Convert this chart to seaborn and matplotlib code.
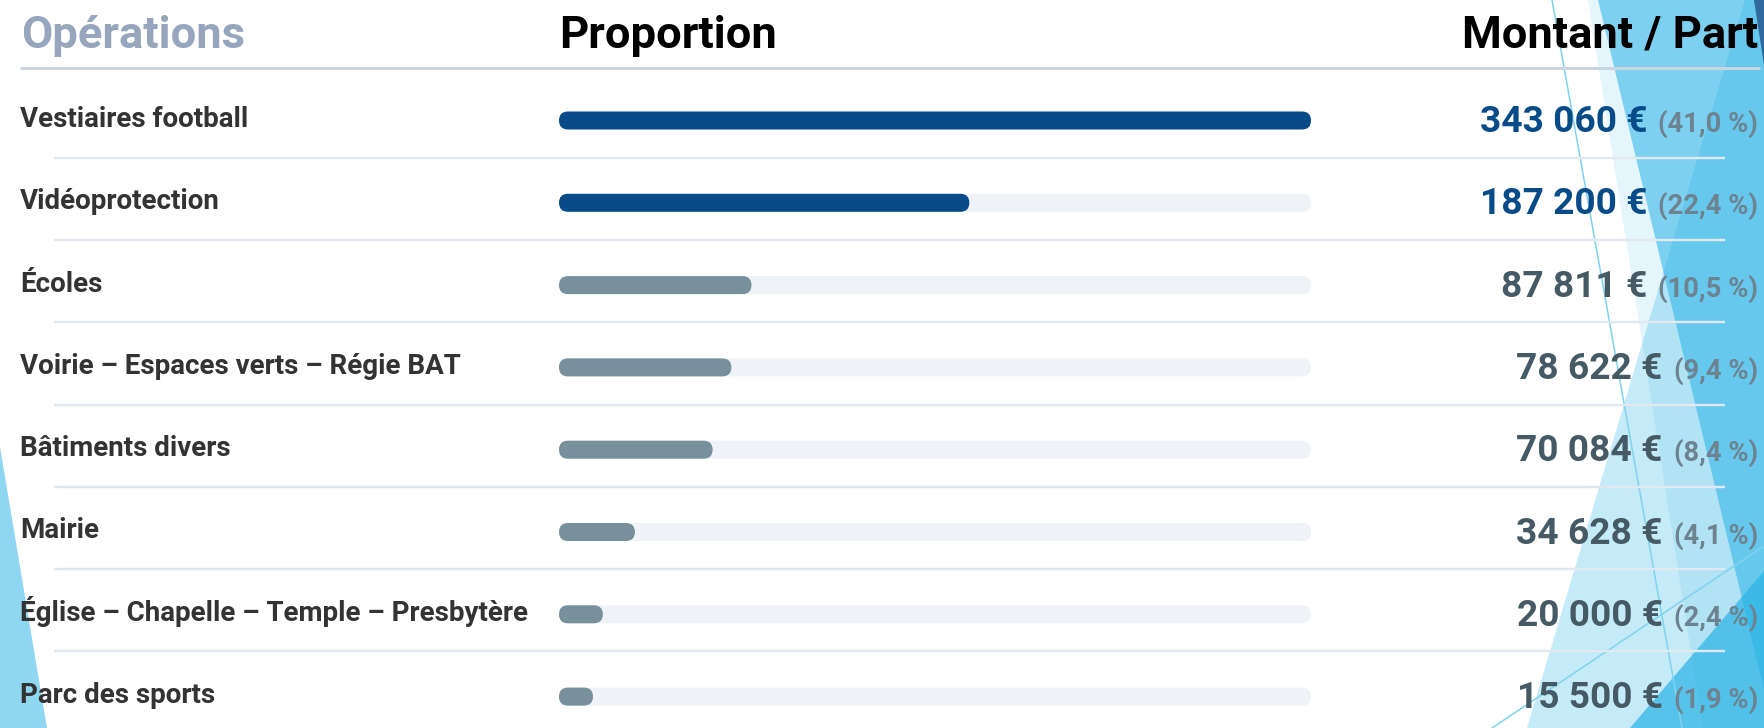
import numpy as np
import pandas as pd
import matplotlib
matplotlib.use("Agg")
import matplotlib.pyplot as plt
import seaborn as sns
from matplotlib.patches import FancyBboxPatch, Polygon
from matplotlib.transforms import blended_transform_factory, offset_copy

# ---------------- data ----------------
operations = [
    "Vestiaires football",
    "Vidéoprotection",
    "Écoles",
    "Voirie – Espaces verts – Régie BAT",
    "Bâtiments divers",
    "Mairie",
    "Église – Chapelle – Temple – Presbytère",
    "Parc des sports",
]
amounts = [343060, 187200, 87811, 78622, 70084, 34628, 20000, 15500]
shares = [41.0, 22.4, 10.5, 9.4, 8.4, 4.1, 2.4, 1.9]
highlighted = [True, True, False, False, False, False, False, False]
headers = ["Opérations", "Proportion", "Montant / Part"]


def fmt_amount(v):
    return f"{v:,}".replace(",", " ") + " €"


def fmt_share(s):
    return "(" + f"{s:.1f}".replace(".", ",") + " %)"


# ---------------- style ----------------
W, H = 1764, 728
sns.set_theme(style="white")
FONT = ["Roboto", "DejaVu Sans"]
plt.rcParams["font.family"] = FONT

DARK_BLUE = "#074b88"
GREY_BAR = "#78909c"
TRACK = "#eff3f8"
AMOUNT_GREY = "#455a64"
SHARE_GREY = "#6e8391"
LABEL = "#333333"
ACC = "#29b3e6"

fig = plt.figure(figsize=(W / 100, H / 100), dpi=100)
fig.patch.set_facecolor("white")
renderer = fig.canvas.get_renderer()

bg = fig.add_axes([0, 0, 1, 1])
bg.set_xlim(0, W)
bg.set_ylim(H, 0)
bg.axis("off")

# decorative facets
deco = [
    ([(0, 447), (47, 728), (0, 728)], ACC, 0.52),
    ([(1588, 0), (1764, 0), (1764, 728), (1703, 728)], ACC, 0.12),
    ([(1598, 0), (1764, 0), (1764, 690)], ACC, 0.55),
    ([(1745, 0), (1764, 0), (1764, 728), (1527, 728)], ACC, 0.27),
    ([(1630, 728), (1764, 571), (1764, 728)], ACC, 0.70),
    ([(1754, 0), (1764, 0), (1764, 65)], "#2c6499", 0.95),
]
for pts, c, a in deco:
    bg.add_patch(Polygon(pts, closed=True, fc=c, ec="none", alpha=a, zorder=0))
bg.plot([1552, 1682], [0, 728], color="#7fd3f0", lw=1.1, zorder=0.5)
bg.plot([1492, 1764], [728, 546], color="#7fd3f0", lw=1.1, zorder=0.5)


def fit_size(text, target, base=20):
    t = fig.text(0, 0, text, fontsize=base, fontweight="bold", family=FONT)
    w = t.get_window_extent(renderer).width
    t.remove()
    return base * target / w


hdr_size = fit_size(headers[1], 217)
lbl_size = fit_size(operations[0], 228)
amt_size = fit_size(fmt_amount(amounts[0]), 167)
shr_size = fit_size(fmt_share(shares[0]), 100)

# headers
bg.text(21, 48, headers[0], fontsize=hdr_size, fontweight="bold", color="#97a6bd", va="baseline", ha="left", zorder=3)
bg.text(559, 48, headers[1], fontsize=hdr_size, fontweight="bold", color="black", va="baseline", ha="left", zorder=3)
bg.text(1758, 48, headers[2], fontsize=hdr_size, fontweight="bold", color="black", va="baseline", ha="right", zorder=3)
bg.plot([20, 1760], [68, 68], color="#cbd5e1", lw=3 * 0.72, solid_capstyle="butt", zorder=2)

# ---------------- bars ----------------
ROW0, PITCH, BOTTOM = 120.5, 82.3, 720
AX_L, AX_R = 559, 1311
ylim_bottom = (BOTTOM - ROW0) / PITCH
top_px = ROW0 - 0.5 * PITCH
ax = fig.add_axes([AX_L / W, (H - BOTTOM) / H, (AX_R - AX_L) / W, (BOTTOM - top_px) / H])
ax.patch.set_alpha(0)

df = pd.DataFrame({
    "operation": operations,
    "amount": amounts,
    "track": [max(amounts)] * len(amounts),
})
bar_colors = [DARK_BLUE if h else GREY_BAR for h in highlighted]
bar_h = 18 / PITCH
sns.barplot(data=df, x="track", y="operation", color=TRACK, width=bar_h, errorbar=None,
            ax=ax, orient="h", saturation=1)
sns.barplot(data=df, x="amount", y="operation", hue="operation", palette=bar_colors,
            width=bar_h, errorbar=None, ax=ax, orient="h", legend=False, saturation=1)
ax.set_xlim(0, max(amounts))
ax.set_ylim(ylim_bottom, -0.5)
ax.axis("off")

x_per_px = max(amounts) / (AX_R - AX_L)
y_per_px = (ylim_bottom + 0.5) / (BOTTOM - top_px)
n = len(operations)
for i, p in enumerate(list(ax.patches)):
    x0, y0, w, h = p.get_x(), p.get_y(), p.get_width(), p.get_height()
    fc = p.get_facecolor()
    p.remove()
    r = min(9, w / x_per_px / 2) * x_per_px
    ax.add_patch(FancyBboxPatch((x0, y0), w, h,
                                boxstyle=f"round,pad=0,rounding_size={r}",
                                mutation_aspect=y_per_px / x_per_px,
                                fc=fc, ec="none", zorder=1 if i < n else 2))

# separators and texts, rows positioned via the bar axis scale
row_tr = blended_transform_factory(bg.transData, ax.transData)
sep_off = 4 / PITCH
for i in range(n - 1):
    bg.plot([54, 1725], [i + 0.5 - sep_off] * 2, transform=row_tr, color="#e2e8f0",
            lw=2.4 * 0.72, solid_capstyle="butt", zorder=1, clip_on=False)

lbl_tr = offset_copy(row_tr, fig=fig, y=-6.5, units="dots")
val_tr = offset_copy(row_tr, fig=fig, y=-11.5, units="dots")
for i, (op, a, s, hl) in enumerate(zip(operations, amounts, shares, highlighted)):
    bg.text(20, i, op, transform=lbl_tr, fontsize=lbl_size, fontweight="bold",
            color=LABEL, va="baseline", ha="left", zorder=3)
    ts = bg.text(1758, i, fmt_share(s), transform=val_tr, fontsize=shr_size,
                 fontweight="bold", color=SHARE_GREY, va="baseline", ha="right", zorder=3)
    sw = ts.get_window_extent(renderer).width
    bg.text(1758 - sw - 11, i, fmt_amount(a), transform=val_tr, fontsize=amt_size,
            fontweight="bold", color=DARK_BLUE if hl else AMOUNT_GREY,
            va="baseline", ha="right", zorder=3)

fig.savefig("out.png", dpi=100, facecolor="white")
